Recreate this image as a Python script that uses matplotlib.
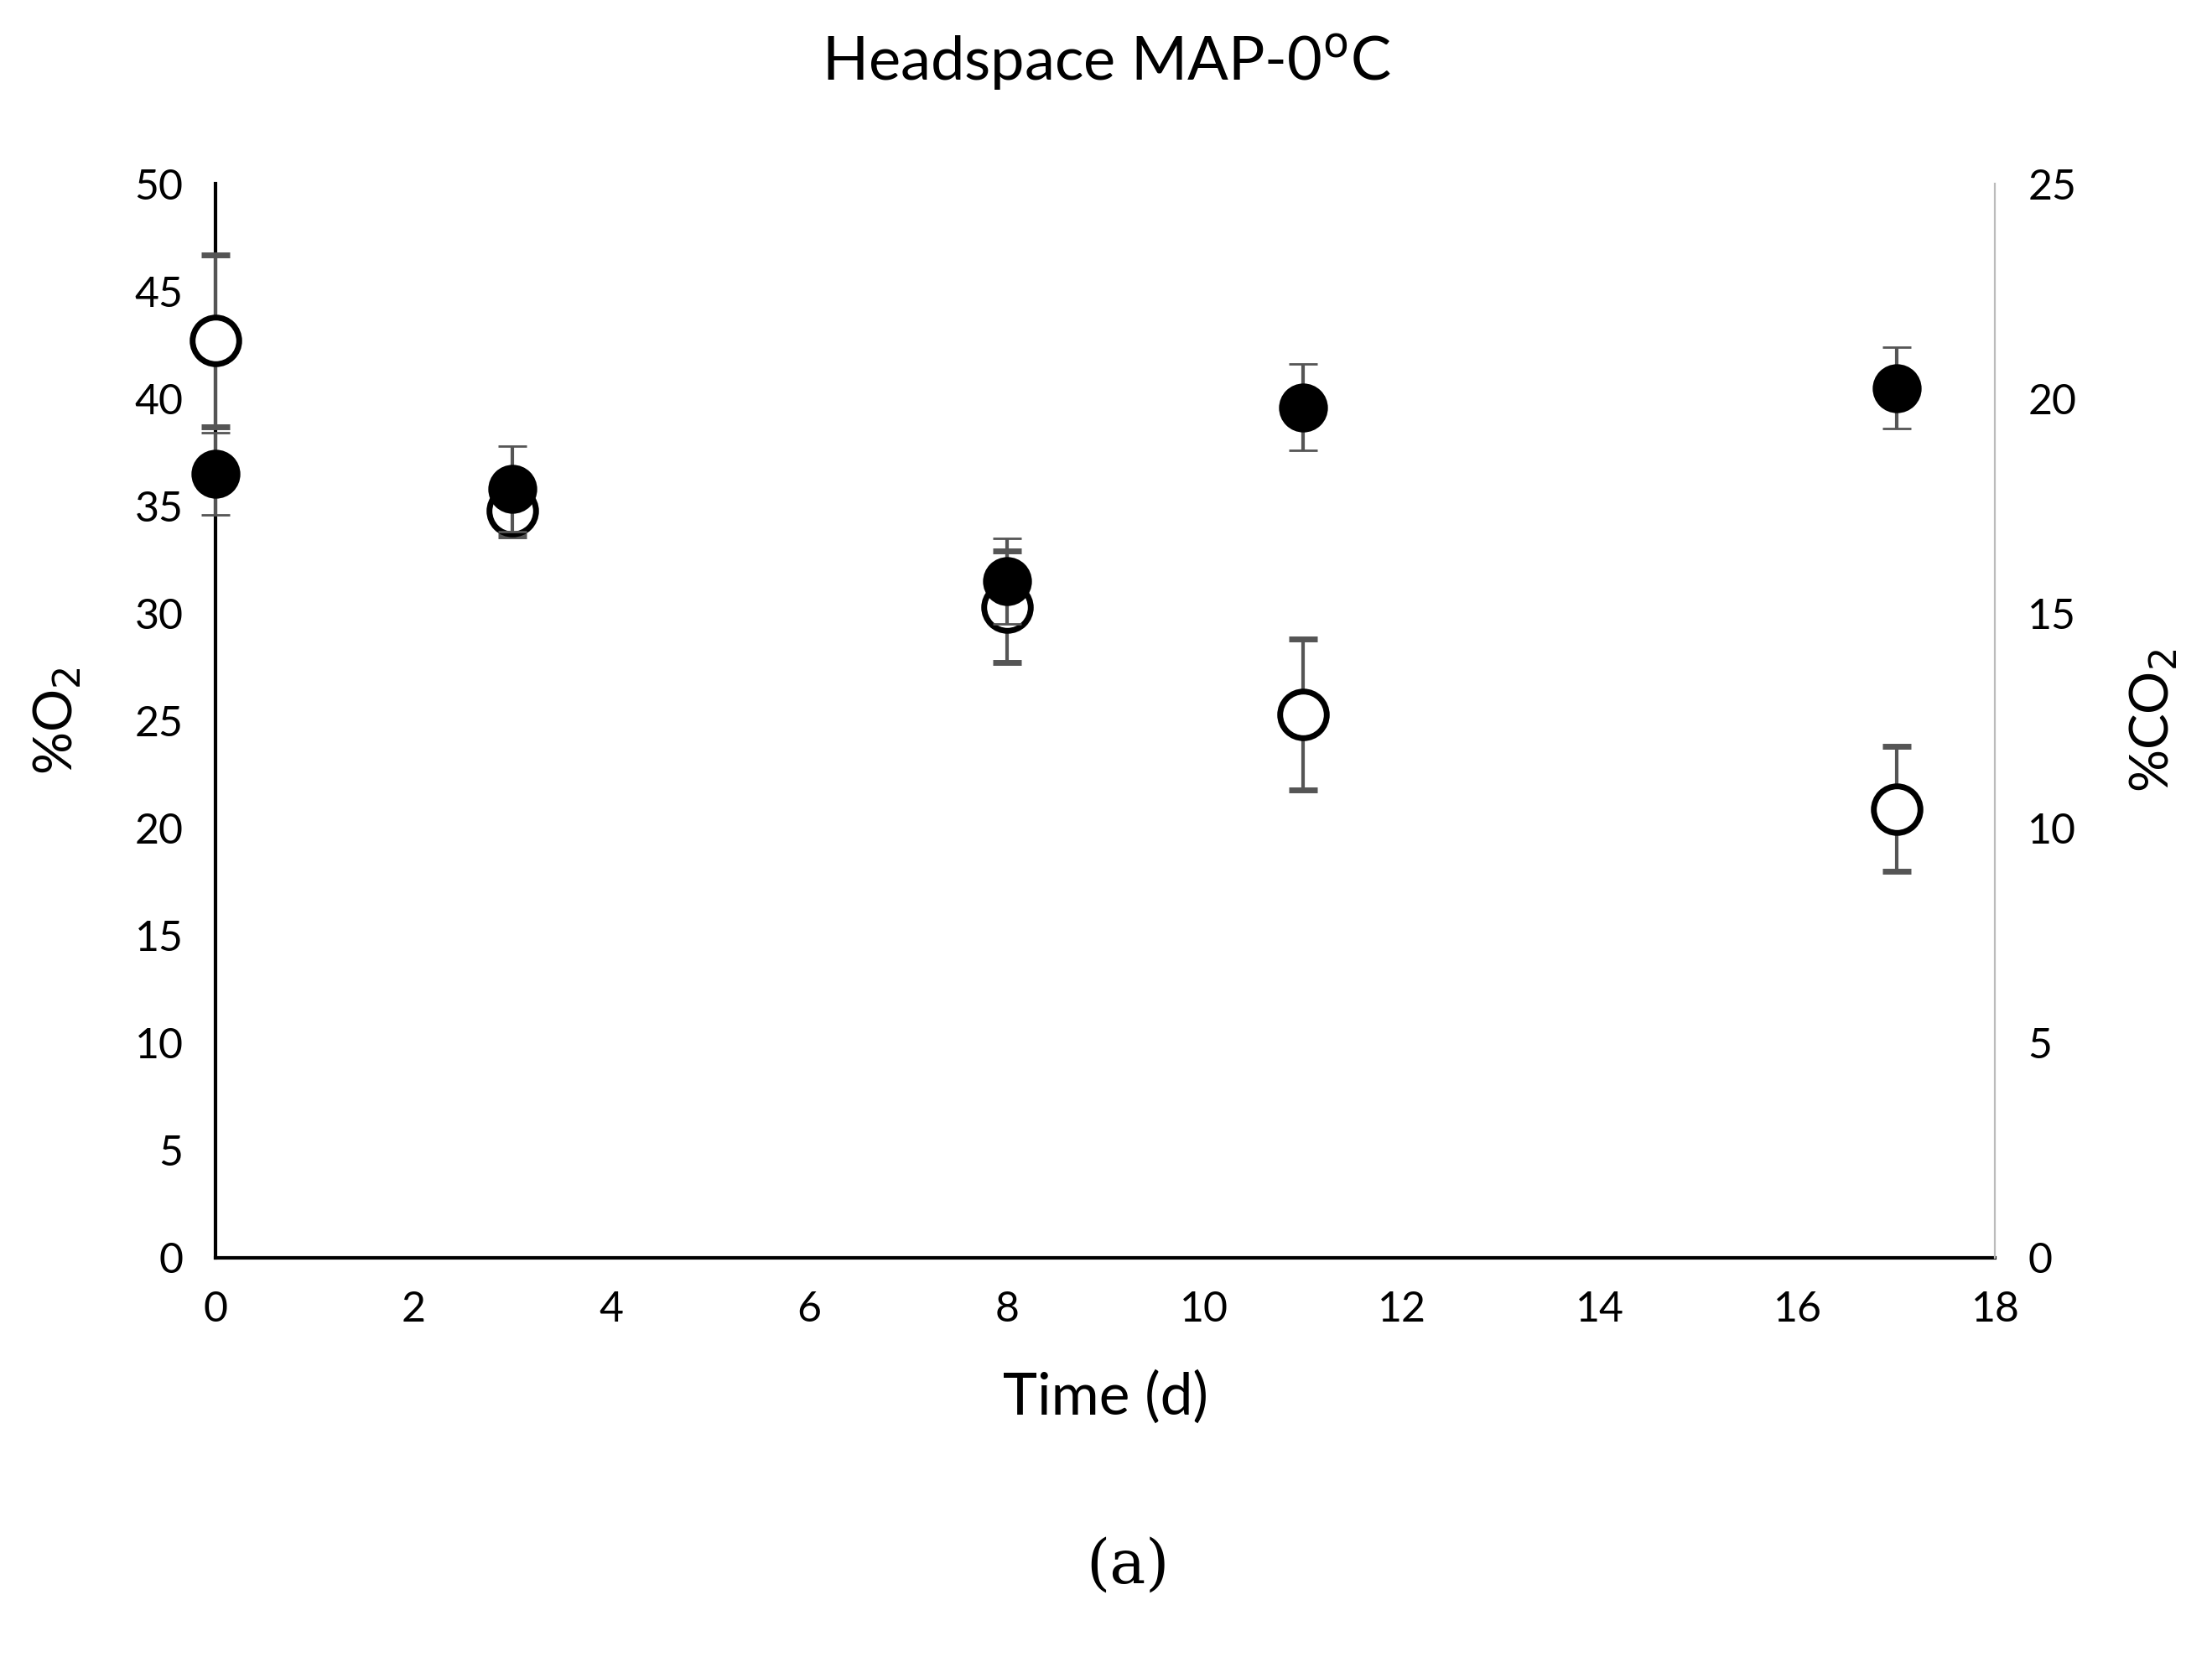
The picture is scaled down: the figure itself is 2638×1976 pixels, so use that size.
import matplotlib
matplotlib.use("Agg")
import matplotlib.pyplot as plt

plt.rcParams['font.family'] = ['Lato', 'DejaVu Sans']

days = [0, 3, 8, 11, 17]
o2 = [42.7, 34.8, 30.3, 25.3, 20.9]
o2_err = [4.0, 1.2, 2.6, 3.5, 2.9]
co2 = [18.25, 17.9, 15.75, 19.8, 20.25]
co2_err = [0.95, 1.0, 1.0, 1.0, 0.95]

fig = plt.figure(figsize=(13.19, 9.88), dpi=200)
ax = fig.add_axes([0.0976, 0.241, 0.8044, 0.648])
ax2 = ax.twinx()

for art in [ax.errorbar(days, o2, yerr=o2_err, fmt='o', mfc='white', mec='black', mew=2.5,
            ms=20, ecolor='#555555', elinewidth=1.5, capsize=6, zorder=3),
            ax2.errorbar(days, co2, yerr=co2_err, fmt='o', mfc='black', mec='black',
             ms=20, ecolor='#555555', elinewidth=1.5, capsize=6, zorder=3)]:
    for child in art.get_children():
        child.set_clip_on(False)

ax.set_xlim(0, 18)
ax.set_ylim(0, 50)
ax2.set_ylim(0, 25)
ax.set_xticks(range(0, 19, 2))
ax.set_yticks(range(0, 51, 5))
ax2.set_yticks(range(0, 26, 5))

for a in (ax, ax2):
    a.spines['top'].set_visible(False)
    a.tick_params(length=0, labelsize=18, pad=14)
ax.spines['right'].set_visible(False)
ax2.spines['left'].set_visible(False)
ax2.spines['bottom'].set_visible(False)
ax2.spines['right'].set_color('#bbbbbb')
ax.spines['left'].set_linewidth(1.5)
ax.spines['bottom'].set_linewidth(1.5)

ax.set_ylabel('%O$_2$', fontsize=23, labelpad=22)
ax2.set_ylabel('%CO$_2$', fontsize=23, labelpad=22)
ax.set_xlabel('Time (d)', fontsize=25, labelpad=18)
fig.text(0.5, 0.962, 'Headspace MAP-0$^{\\mathrm{o}}$C', ha='center', va='center', fontsize=26)
fig.text(0.51, 0.055, '(a)', ha='center', va='center', fontsize=26, family='DejaVu Serif')

fig.savefig('out.png', dpi=200, facecolor='white')
